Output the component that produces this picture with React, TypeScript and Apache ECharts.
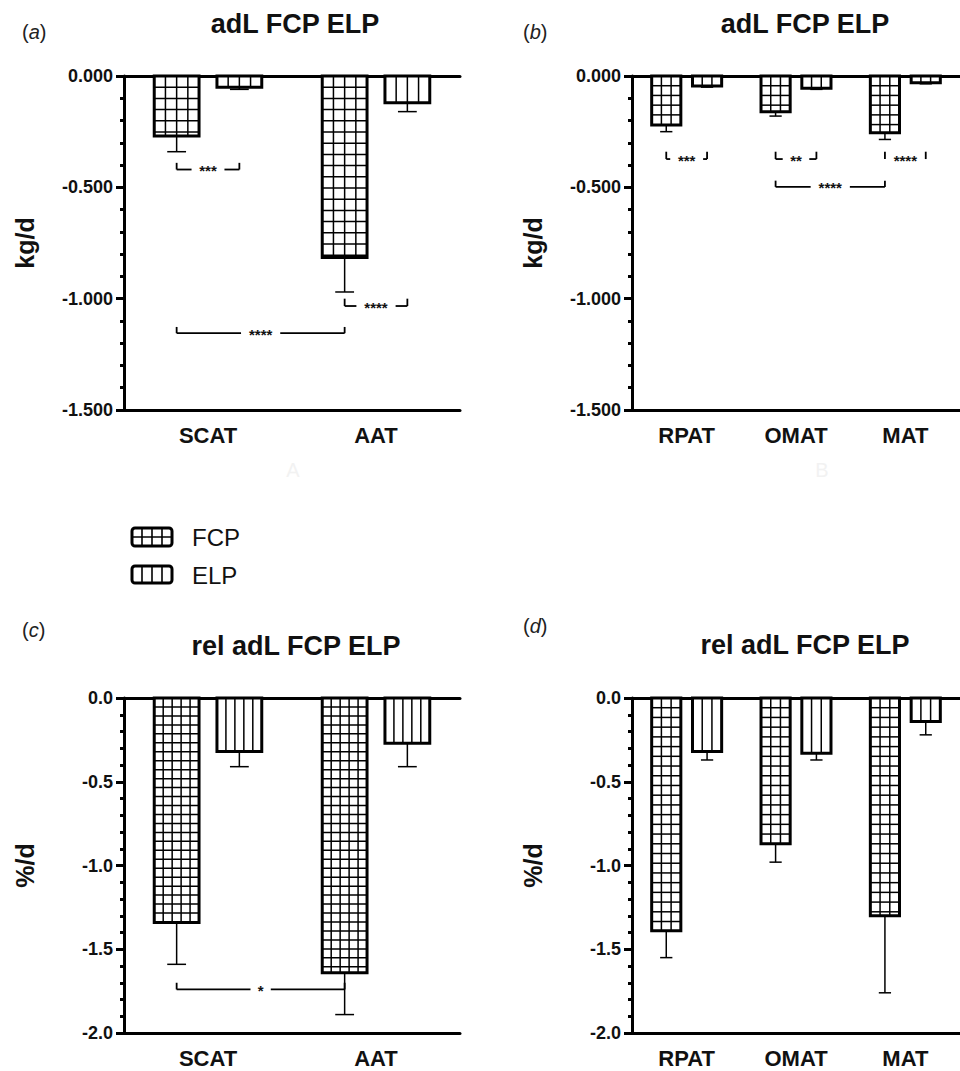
import React, { useEffect, useRef } from 'react';
import * as echarts from 'echarts';

const FONT = '"Liberation Sans", Arial, Helvetica, sans-serif';

// categories
const catsTop = ['SCAT', 'AAT'];
const catsSide = ['RPAT', 'OMAT', 'MAT'];

// (a) adL, kg/d
const aFCP = [-0.27, -0.815];
const aFCPerr = [-0.34, -0.97];
const aELP = [-0.05, -0.12];
const aELPerr = [-0.06, -0.16];

// (b) adL, kg/d
const bFCP = [-0.22, -0.16, -0.255];
const bFCPerr = [-0.25, -0.18, -0.285];
const bELP = [-0.045, -0.055, -0.03];
const bELPerr = [-0.05, -0.06, -0.035];

// (c) rel adL, %/d
const cFCP = [-1.34, -1.64];
const cFCPerr = [-1.59, -1.89];
const cELP = [-0.32, -0.27];
const cELPerr = [-0.41, -0.41];

// (d) rel adL, %/d
const dFCP = [-1.39, -0.87, -1.3];
const dFCPerr = [-1.55, -0.98, -1.76];
const dELP = [-0.32, -0.33, -0.14];
const dELPerr = [-0.37, -0.37, -0.22];

// significance brackets: [cat1, yLine, side1, cat2, side2, yTop]
const bracketsA = [
  [0, -0.42, 0, 0, 1, -0.39],
  [1, -1.033, 0, 1, 1, -1.0],
  [0, -1.155, 0, 1, 0, -1.127],
];
const bracketLabelsA = ['***', '****', '****'];
const bracketsB = [
  [0, -0.373, 0, 0, 1, -0.34],
  [1, -0.373, 0, 1, 1, -0.34],
  [2, -0.373, 0, 2, 1, -0.34],
  [1, -0.498, 0, 2, 0, -0.47],
];
const bracketLabelsB = ['***', '**', '****', '****'];
const bracketsC = [[0, -1.74, 0, 1, 0, -1.7]];
const bracketLabelsC = ['*'];
const bracketsD: number[][] = [];
const bracketLabelsD: string[] = [];

const BAR_CAT_GAP = 0.36;
const BAR_GAP = 0.4;

function barGeom(api: any) {
  const band = api.size([1, 0])[0];
  const w = (band * (1 - BAR_CAT_GAP)) / (2 + BAR_GAP);
  const off = (w * (1 + BAR_GAP)) / 2;
  return { w, off };
}

function barRender(side: number, cellTarget: number, grid: boolean) {
  return function (params: any, api: any) {
    const cat = api.value(0);
    const v = api.value(1);
    const e = api.value(2);
    const base = api.coord([cat, 0]);
    const end = api.coord([cat, v]);
    const ep = api.coord([cat, e]);
    const { w, off } = barGeom(api);
    const cx = base[0] + side * off;
    const x0 = cx - w / 2;
    const y0 = base[1];
    const y1 = end[1];
    const h = y1 - y0;
    const cols = Math.max(1, Math.round(w / cellTarget));
    const cell = w / cols;
    const children: any[] = [];
    children.push({ type: 'rect', shape: { x: x0, y: y0, width: w, height: h }, style: { fill: '#fff' } });
    for (let i = 1; i < cols; i++) {
      children.push({
        type: 'line',
        shape: { x1: x0 + i * cell, y1: y0, x2: x0 + i * cell, y2: y1 },
        style: { stroke: '#000', lineWidth: 1.5 },
      });
    }
    if (grid) {
      for (let y = y0 + cell; y < y1 - 2; y += cell) {
        children.push({
          type: 'line',
          shape: { x1: x0, y1: y, x2: x0 + w, y2: y },
          style: { stroke: '#000', lineWidth: 1.5 },
        });
      }
    }
    children.push({
      type: 'rect',
      shape: { x: x0, y: y0, width: w, height: h },
      style: { fill: 'none', stroke: '#000', lineWidth: 3 },
    });
    children.push({
      type: 'line',
      shape: { x1: cx, y1: y1, x2: cx, y2: ep[1] },
      style: { stroke: '#000', lineWidth: 1.5 },
    });
    children.push({
      type: 'line',
      shape: { x1: cx - 0.21 * w, y1: ep[1], x2: cx + 0.21 * w, y2: ep[1] },
      style: { stroke: '#000', lineWidth: 1.5 },
    });
    return { type: 'group', children };
  };
}

function bracketRender(labels: string[]) {
  return function (params: any, api: any) {
    const c1 = api.value(0);
    const yl = api.value(1);
    const s1 = api.value(2);
    const c2 = api.value(3);
    const s2 = api.value(4);
    const yt = api.value(5);
    const { off } = barGeom(api);
    const p1 = api.coord([c1, yl]);
    const p2 = api.coord([c2, yl]);
    const pt = api.coord([c1, yt]);
    const x1 = p1[0] + (s1 ? off : -off);
    const x2 = p2[0] + (s2 ? off : -off);
    const y = p1[1];
    const ytop = pt[1];
    const label = labels[params.dataIndex] || '';
    const tw = label.length * 6.3;
    const mid = (x1 + x2) / 2;
    const gh = tw / 2 + 7;
    const ls = { stroke: '#000', lineWidth: 1.8 };
    const children: any[] = [
      { type: 'line', shape: { x1: x1, y1: ytop, x2: x1, y2: y }, style: ls },
      { type: 'line', shape: { x1: x2, y1: ytop, x2: x2, y2: y }, style: ls },
    ];
    if (mid - gh > x1 + 1) {
      children.push({ type: 'line', shape: { x1: x1, y1: y, x2: mid - gh, y2: y }, style: ls });
      children.push({ type: 'line', shape: { x1: mid + gh, y1: y, x2: x2, y2: y }, style: ls });
    }
    children.push({
      type: 'text',
      x: mid,
      y: y + 1,
      style: {
        text: label,
        fill: '#111',
        font: 'bold 15px ' + FONT,
        align: 'center',
        verticalAlign: 'middle',
        textAlign: 'center',
        textVerticalAlign: 'middle',
      },
    });
    return { type: 'group', children };
  };
}

export default function App() {
  const ref = useRef<HTMLDivElement>(null);

  useEffect(() => {
    document.body.style.margin = '0';
    if (!ref.current) return;
    const chart = echarts.init(ref.current, undefined, { renderer: 'svg' });

    const panels = [
      { cats: catsTop, fcp: aFCP, fcpE: aFCPerr, elp: aELP, elpE: aELPerr, br: bracketsA, brL: bracketLabelsA,
        left: 124, top: 76, height: 334, min: -1.5, dec: 3, name: 'kg/d', cell: 11 },
      { cats: catsSide, fcp: bFCP, fcpE: bFCPerr, elp: bELP, elpE: bELPerr, br: bracketsB, brL: bracketLabelsB,
        left: 632, top: 76, height: 334, min: -1.5, dec: 3, name: 'kg/d', cell: 10 },
      { cats: catsTop, fcp: cFCP, fcpE: cFCPerr, elp: cELP, elpE: cELPerr, br: bracketsC, brL: bracketLabelsC,
        left: 124, top: 698, height: 335, min: -2, dec: 1, name: '%/d', cell: 9.5 },
      { cats: catsSide, fcp: dFCP, fcpE: dFCPerr, elp: dELP, elpE: dELPerr, br: bracketsD, brL: bracketLabelsD,
        left: 632, top: 698, height: 335, min: -2, dec: 1, name: '%/d', cell: 9.5 },
    ];

    const grids: any[] = [];
    const xAxes: any[] = [];
    const yAxes: any[] = [];
    const series: any[] = [];

    panels.forEach((p, g) => {
      grids.push({ left: p.left, top: p.top, width: 336, height: p.height });
      xAxes.push({
        gridIndex: g,
        type: 'category',
        data: p.cats,
        position: 'bottom',
        axisLine: { onZero: false, lineStyle: { color: '#000', width: 3 } },
        axisTick: { alignWithLabel: true, length: 8, lineStyle: { color: '#000', width: 3 } },
        axisLabel: { color: '#111', fontSize: 22, fontWeight: 'bold', fontFamily: FONT, margin: 14 },
        splitLine: { show: false },
      });
      xAxes.push({
        gridIndex: g,
        type: 'category',
        data: p.cats,
        position: 'top',
        axisLine: { onZero: false, lineStyle: { color: '#000', width: 3 } },
        axisTick: { show: false },
        axisLabel: { show: false },
        splitLine: { show: false },
      });
      yAxes.push({
        gridIndex: g,
        type: 'value',
        min: p.min,
        max: 0,
        interval: 0.5,
        name: p.name,
        nameLocation: 'middle',
        nameGap: 87,
        nameTextStyle: { color: '#111', fontSize: 25, fontWeight: 'bold', fontFamily: FONT },
        axisLine: { show: true, lineStyle: { color: '#000', width: 3 } },
        axisTick: { show: true, length: 8, lineStyle: { color: '#000', width: 3 } },
        minorTick: { show: true, splitNumber: 5, length: 4, lineStyle: { color: '#000', width: 3 } },
        splitLine: { show: false },
        axisLabel: {
          color: '#111',
          fontSize: 18,
          fontWeight: 'bold',
          fontFamily: FONT,
          margin: 11,
          formatter: (v: number) => (Math.abs(v) < 1e-9 ? 0 : v).toFixed(p.dec),
        },
      });
      series.push({
        type: 'custom',
        name: 'FCP',
        xAxisIndex: 2 * g,
        yAxisIndex: g,
        renderItem: barRender(-1, p.cell, true),
        encode: { x: 0, y: 1 },
        data: p.cats.map((_, i) => [i, p.fcp[i], p.fcpE[i]]),
        z: 3,
      });
      series.push({
        type: 'custom',
        name: 'ELP',
        xAxisIndex: 2 * g,
        yAxisIndex: g,
        renderItem: barRender(1, p.cell, false),
        encode: { x: 0, y: 1 },
        data: p.cats.map((_, i) => [i, p.elp[i], p.elpE[i]]),
        z: 3,
      });
      if (p.br.length) {
        series.push({
          type: 'custom',
          name: 'sig',
          xAxisIndex: 2 * g,
          yAxisIndex: g,
          renderItem: bracketRender(p.brL),
          encode: { x: 0, y: 1 },
          data: p.br,
          z: 4,
        });
      }
    });

    const txt = (text: string, x: number, y: number, font: string, fill = '#111', align = 'center') => ({
      type: 'text',
      x,
      y,
      style: {
        text,
        fill,
        font,
        align,
        textAlign: align,
        verticalAlign: 'middle',
        textVerticalAlign: 'middle',
      },
    });

    const panelLabel = (letter: string, x: number, y: number) => ({
      type: 'text',
      x,
      y,
      style: {
        text: '{n|(}{i|' + letter + '}{n|)}',
        align: 'left',
        verticalAlign: 'middle',
        textAlign: 'left',
        textVerticalAlign: 'middle',
        rich: {
          n: { fontSize: 20, fontFamily: FONT, fill: '#222', color: '#222' },
          i: { fontSize: 20, fontFamily: FONT, fontStyle: 'italic', fill: '#222', color: '#222' },
        },
      },
    });

    const swatchLines = (x: number, y: number, w: number, h: number, grid: boolean) => {
      const out: any[] = [];
      for (let i = 1; i < 4; i++) {
        out.push({ type: 'line', shape: { x1: x + (i * w) / 4, y1: y, x2: x + (i * w) / 4, y2: y + h }, style: { stroke: '#000', lineWidth: 1.6 } });
      }
      if (grid) out.push({ type: 'line', shape: { x1: x, y1: y + h / 2, x2: x + w, y2: y + h / 2 }, style: { stroke: '#000', lineWidth: 1.6 } });
      out.push({ type: 'rect', shape: { x, y, width: w, height: h, r: 3 }, style: { fill: 'none', stroke: '#000', lineWidth: 3 } });
      return out;
    };

    const graphic: any[] = [
      txt('adL FCP ELP', 295, 24, 'bold 27px ' + FONT),
      txt('adL FCP ELP', 805, 24, 'bold 27px ' + FONT),
      txt('rel adL FCP ELP', 296, 646, 'bold 27px ' + FONT),
      txt('rel adL FCP ELP', 805, 645, 'bold 27px ' + FONT),
      panelLabel('a', 22, 32),
      panelLabel('b', 523, 32),
      panelLabel('c', 22, 630),
      panelLabel('d', 523, 626),
      txt('A', 293, 470, '20px ' + FONT, '#f2f2f2'),
      txt('B', 822, 470, '20px ' + FONT, '#f2f2f2'),
      ...swatchLines(132, 528, 40, 18, true),
      ...swatchLines(132, 566, 40, 17, false),
      txt('FCP', 192, 537, '24px ' + FONT, '#111', 'left'),
      txt('ELP', 192, 575, '24px ' + FONT, '#111', 'left'),
    ];

    chart.setOption({
      animation: false,
      backgroundColor: '#fff',
      grid: grids,
      xAxis: xAxes,
      yAxis: yAxes,
      series,
      graphic,
    });

    return () => chart.dispose();
  }, []);

  return <div ref={ref} style={{ width: 960, height: 1071 }} />;
}
